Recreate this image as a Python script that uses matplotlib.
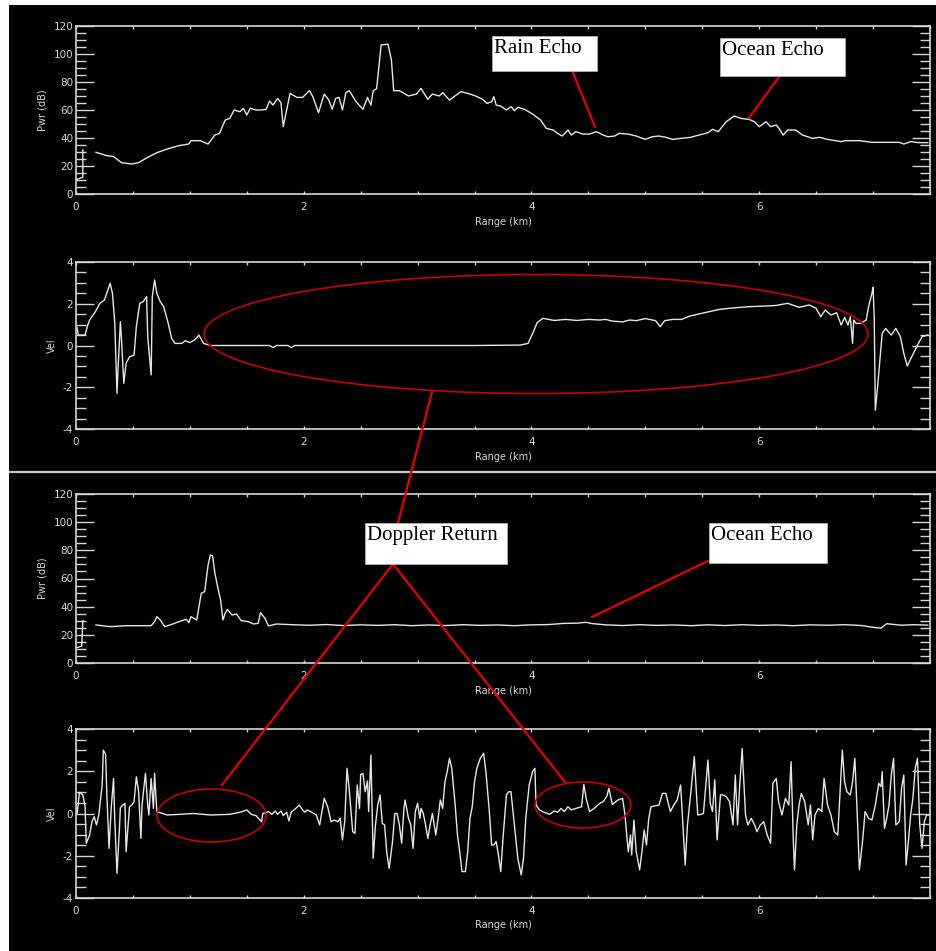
import numpy as np
import matplotlib
matplotlib.use("Agg")
import matplotlib.pyplot as plt
from matplotlib.patches import Ellipse, Rectangle
from matplotlib.lines import Line2D
from matplotlib.ticker import MultipleLocator

plt.rcParams["axes.unicode_minus"] = False

nan = np.nan

# --- rain case: received power (dB) vs range (km) ---
rain_pwr_km = [
    0.01, 0.06, 0.06, nan, 0.175, 0.27, 0.33, 0.40, 0.49, 0.55,
    0.63, 0.71, 0.80, 0.90, 0.99, 1.01, 1.09, 1.16, 1.22, 1.26,
    1.31, 1.35, 1.39, 1.44, 1.47, 1.50, 1.53, 1.58, 1.63, 1.67,
    1.70, 1.73, 1.77, 1.80, 1.82, 1.85, 1.88, 1.94, 1.99, 2.05,
    2.08, 2.13, 2.18, 2.22, 2.25, 2.28, 2.31, 2.34, 2.37, 2.40,
    2.46, 2.52, 2.56, 2.59, 2.61, 2.64, 2.68, 2.74, 2.77, 2.79,
    2.84, 2.92, 2.99, 3.03, 3.09, 3.13, 3.19, 3.22, 3.28, 3.34,
    3.38, 3.46, 3.51, 3.57, 3.61, 3.65, 3.67, 3.69, 3.73, 3.78,
    3.82, 3.85, 3.88, 3.94, 4.01, 4.08, 4.13, 4.19, 4.23, 4.27,
    4.32, 4.35, 4.39, 4.45, 4.51, 4.57, 4.63, 4.67, 4.73, 4.77,
    4.85, 4.92, 5.00, 5.06, 5.12, 5.18, 5.24, 5.31, 5.40, 5.47,
    5.55, 5.59, 5.64, 5.71, 5.78, 5.84, 5.91, 5.96, 6.00, 6.06,
    6.10, 6.15, 6.18, 6.21, 6.25, 6.32, 6.38, 6.47, 6.53, 6.60,
    6.72, 6.76, 6.88, 6.99, 7.11, 7.23, 7.27, 7.33, 7.40, 7.48,
]
rain_pwr_db = [
    10.5, 12.0, 31.5, nan, 29.8, 27.4, 26.7, 22.4, 21.4, 22.4,
    26.2, 29.5, 32.1, 34.5, 35.7, 38.1, 38.1, 35.7, 42.1, 43.3,
    52.8, 54.0, 60.0, 58.8, 61.2, 56.4, 61.2, 60.0, 60.0, 60.5,
    66.4, 63.5, 68.3, 65.2, 48.1, 60.0, 71.9, 69.0, 69.0, 73.8,
    69.5, 58.1, 71.4, 67.1, 60.5, 68.3, 69.0, 60.0, 72.4, 73.8,
    65.9, 60.5, 69.0, 63.5, 73.8, 75.2, 106.5, 107.0, 95.7, 73.8,
    73.8, 70.0, 71.4, 75.4, 67.6, 71.4, 70.0, 72.4, 67.1, 70.7,
    73.1, 71.4, 70.0, 67.6, 64.7, 65.9, 69.5, 63.5, 62.8, 60.0,
    62.4, 59.5, 61.9, 60.5, 57.1, 52.8, 46.9, 45.7, 43.3, 41.4,
    45.7, 42.1, 44.5, 42.8, 42.8, 44.5, 42.1, 40.9, 41.4, 43.3,
    42.8, 41.4, 39.0, 40.9, 41.4, 40.5, 39.0, 39.7, 40.5, 42.1,
    43.8, 46.2, 44.5, 51.6, 55.7, 54.0, 53.3, 51.6, 48.1, 51.6,
    48.1, 49.3, 46.2, 42.1, 45.7, 45.7, 42.1, 39.7, 40.5, 39.0,
    37.4, 38.1, 38.1, 36.9, 36.9, 36.9, 35.7, 37.4, 36.7, 36.7,
]

# --- rain case: Doppler velocity vs range ---
rain_vel_km = [
    0.01, 0.02, 0.08, 0.10, 0.12, 0.17, 0.21, 0.25, 0.28, 0.30,
    0.32, 0.34, 0.36, 0.37, 0.39, 0.40, 0.42, 0.44, 0.47, 0.51,
    0.53, 0.56, 0.59, 0.62, 0.63, 0.66, 0.67, 0.69, 0.71, 0.74,
    0.77, 0.81, 0.84, 0.87, 0.93, 0.96, 1.00, 1.04, 1.08, 1.12,
    1.18, 1.50, 1.70, 1.73, 1.76, 1.86, 1.89, 1.92, 2.50, 3.00,
    3.50, 3.90, 3.97, 4.02, 4.05, 4.10, 4.20, 4.30, 4.40, 4.50,
    4.60, 4.65, 4.71, 4.80, 4.86, 4.92, 5.00, 5.09, 5.13, 5.17,
    5.24, 5.32, 5.39, 5.47, 5.56, 5.65, 5.77, 5.91, 6.06, 6.15,
    6.25, 6.35, 6.44, 6.50, 6.54, 6.58, 6.63, 6.68, 6.72, 6.75,
    6.78, 6.80, 6.82, 6.83, 6.85, 6.89, 6.94, 6.96, 6.99, 7.00,
    7.01, 7.02, 7.04, 7.06, 7.08, 7.11, 7.16, 7.20, 7.24, 7.27,
    7.30, 7.34, 7.39, 7.43, 7.48,
]
rain_vel_ms = [
    0.85, 0.50, 0.50, 0.93, 1.22, 1.62, 2.02, 2.18, 2.66, 2.98,
    2.50, 1.14, -2.29, -1.01, 1.14, 0.26, -1.81, -0.85, -0.54, -0.46,
    0.90, 2.02, 2.10, 2.34, 0.42, -1.41, 2.34, 3.14, 2.50, 2.10,
    1.86, 1.06, 0.34, 0.10, 0.10, 0.23, 0.14, 0.26, 0.50, 0.10,
    0.00, 0.00, 0.00, -0.10, 0.00, 0.00, -0.10, 0.00, 0.00, 0.00,
    0.00, 0.02, 0.10, 0.70, 1.10, 1.30, 1.20, 1.25, 1.20, 1.25,
    1.22, 1.25, 1.17, 1.13, 1.22, 1.19, 1.29, 1.19, 0.90, 1.19,
    1.25, 1.25, 1.41, 1.51, 1.62, 1.73, 1.80, 1.86, 1.89, 1.92,
    2.02, 1.83, 1.94, 1.78, 1.38, 1.70, 1.46, 1.57, 0.98, 1.35,
    0.98, 1.38, 0.10, 1.22, 1.06, 1.06, 1.22, 1.86, 2.50, 2.79,
    1.35, -3.10, -1.97, -0.69, 0.58, 0.82, 0.50, 0.82, 0.42, -0.38,
    -0.98, -0.54, 0.02, 0.42, 0.50,
]

# --- clear case: received power ---
clear_pwr_km = [
    0.01, 0.05, 0.06, nan, 0.175, 0.30, 0.44, 0.56, 0.66, 0.69,
    0.71, 0.74, 0.78, 0.85, 0.93, 0.97, 0.99, 1.01, 1.06, 1.08,
    1.10, 1.13, 1.16, 1.18, 1.20, 1.22, 1.25, 1.27, 1.29, 1.31,
    1.33, 1.37, 1.41, 1.45, 1.51, 1.56, 1.60, 1.62, 1.66, 1.69,
    1.76, 1.90, 2.05, 2.20, 2.35, 2.50, 2.65, 2.80, 2.95, 3.10,
    3.25, 3.40, 3.55, 3.70, 3.85, 4.00, 4.15, 4.28, 4.40, 4.48,
    4.53, 4.65, 4.80, 4.95, 5.10, 5.25, 5.40, 5.55, 5.70, 5.85,
    6.00, 6.15, 6.30, 6.45, 6.60, 6.75, 6.90, 7.00, 7.07, 7.12,
    7.18, 7.25, 7.35, 7.48,
]
clear_pwr_db = [
    11.0, 12.0, 30.0, nan, 27.0, 25.8, 26.5, 26.5, 26.5, 29.4,
    32.9, 30.5, 25.8, 27.7, 30.1, 31.0, 28.6, 32.9, 30.5, 40.0,
    49.5, 50.7, 69.6, 76.7, 76.0, 63.7, 51.8, 44.7, 30.5, 35.3,
    38.1, 34.1, 34.8, 30.1, 29.4, 27.7, 28.2, 35.7, 31.7, 26.3,
    27.7, 27.2, 26.8, 27.3, 26.6, 27.1, 26.7, 27.2, 26.5, 27.0,
    26.6, 27.2, 26.7, 27.0, 26.5, 27.1, 27.3, 28.1, 28.3, 28.9,
    28.0, 27.1, 26.6, 27.2, 26.7, 27.0, 26.5, 27.1, 26.6, 27.2,
    26.7, 27.0, 26.5, 27.1, 26.8, 27.2, 26.6, 25.3, 24.8, 27.9,
    27.4, 26.8, 27.2, 26.9,
]

# --- clear case: Doppler velocity ---
clear_vel_km = [
    0.01, 0.03, 0.06, 0.08, 0.09, 0.12, 0.14, 0.16, 0.18, 0.20,
    0.23, 0.24, 0.26, 0.27, 0.29, 0.31, 0.33, 0.34, 0.36, 0.38,
    0.39, 0.41, 0.43, 0.44, 0.47, 0.49, 0.51, 0.53, 0.55, 0.57,
    0.58, 0.61, 0.63, 0.64, 0.66, 0.68, 0.69, 0.71, 0.80, 0.91,
    1.03, 1.18, 1.35, 1.44, 1.50, 1.54, 1.58, 1.63, 1.64, 1.69,
    1.72, 1.75, 1.77, 1.80, 1.82, 1.85, 1.87, 1.89, 1.93, 1.96,
    1.99, 2.01, 2.03, 2.07, 2.11, 2.14, 2.16, 2.18, 2.21, 2.24,
    2.27, 2.30, 2.32, 2.34, 2.36, 2.38, 2.40, 2.43, 2.45, 2.47,
    2.49, 2.50, 2.52, 2.54, 2.56, 2.57, 2.59, 2.61, 2.63, 2.65,
    2.67, 2.69, 2.71, 2.73, 2.75, 2.78, 2.80, 2.82, 2.84, 2.86,
    2.88, 2.89, 2.92, 2.94, 2.96, 2.98, 3.00, 3.02, 3.03, 3.05,
    3.07, 3.09, 3.11, 3.13, 3.16, 3.18, 3.20, 3.22, 3.24, 3.26,
    3.28, 3.30, 3.33, 3.35, 3.37, 3.39, 3.42, 3.44, 3.46, 3.48,
    3.50, 3.52, 3.55, 3.58, 3.60, 3.63, 3.65, 3.67, 3.69, 3.71,
    3.73, 3.75, 3.78, 3.80, 3.82, 3.85, 3.88, 3.91, 3.93, 3.95,
    3.98, 4.01, 4.03, 4.04, 4.07, 4.11, 4.16, 4.20, 4.23, 4.26,
    4.29, 4.32, 4.35, 4.39, 4.44, 4.46, 4.48, 4.51, 4.55, 4.60,
    4.63, 4.66, 4.68, 4.71, 4.76, 4.80, 4.82, 4.85, 4.87, 4.88,
    4.90, 4.92, 4.95, 4.97, 4.99, 5.01, 5.03, 5.05, 5.09, 5.12,
    5.15, 5.18, 5.22, 5.25, 5.28, 5.31, 5.33, 5.35, 5.37, 5.40,
    5.43, 5.46, 5.49, 5.51, 5.55, 5.57, 5.59, 5.61, 5.63, 5.66,
    5.68, 5.71, 5.74, 5.77, 5.79, 5.81, 5.83, 5.85, 5.88, 5.90,
    5.93, 5.96, 5.98, 6.01, 6.04, 6.07, 6.10, 6.12, 6.15, 6.17,
    6.20, 6.23, 6.26, 6.28, 6.30, 6.31, 6.33, 6.35, 6.37, 6.40,
    6.43, 6.45, 6.47, 6.49, 6.52, 6.55, 6.57, 6.60, 6.63, 6.66,
    6.69, 6.71, 6.73, 6.75, 6.77, 6.80, 6.82, 6.84, 6.86, 6.88,
    6.91, 6.93, 6.96, 6.99, 7.02, 7.05, 7.07, 7.08, 7.10, 7.12,
    7.14, 7.16, 7.18, 7.20, 7.23, 7.25, 7.27, 7.29, 7.31, 7.33,
    7.35, 7.37, 7.39, 7.41, 7.43, 7.45, 7.47, 7.49,
]
clear_vel_ms = [
    0.00, 1.00, 0.88, 0.32, -1.41, -1.02, -0.39, -0.15, -0.54, -0.07,
    1.35, 3.00, 2.80, 1.03, -1.65, 0.32, 1.66, -0.23, -2.83, -0.86,
    0.28, 0.40, 0.48, -1.81, 0.32, 0.40, 0.56, 1.74, 1.03, -1.18,
    0.40, 1.90, 0.40, -0.07, 1.66, 0.24, 1.90, 0.09, -0.07, -0.04,
    0.00, -0.07, -0.04, 0.06, 0.17, -0.04, -0.10, -0.39, 0.00, 0.09,
    -0.04, 0.12, -0.04, 0.12, -0.10, 0.06, -0.35, 0.06, 0.24, 0.40,
    0.17, 0.06, 0.17, 0.06, -0.07, -0.54, 0.09, 0.72, 0.32, -0.39,
    -0.31, -0.39, -0.23, -1.25, -0.39, 2.14, 1.11, -0.86, -0.94, 1.35,
    0.24, 1.85, 1.90, 1.03, 1.54, 0.09, 2.77, -2.12, -0.54, 0.40,
    0.88, -0.47, -0.54, -1.88, -2.60, -1.33, 0.00, 0.00, -0.54, -1.41,
    0.24, 0.64, -0.23, -0.54, -1.65, 0.09, 0.48, -0.23, 0.24, 0.00,
    -0.54, -1.18, -0.54, 0.00, -1.02, -0.23, 0.64, 0.24, 1.50, 1.98,
    2.61, 2.14, 0.40, -1.02, -1.81, -2.75, -2.75, -1.81, -0.23, 0.32,
    1.50, 2.14, 2.61, 2.85, 1.98, 0.09, -1.49, -1.49, -1.33, -1.96,
    -2.75, -1.18, 0.88, 1.03, 1.03, -0.54, -2.12, -2.91, -2.12, -0.23,
    1.35, 1.98, 2.14, 0.40, 0.17, 0.06, -0.04, 0.12, 0.06, 0.24,
    0.09, 0.32, 0.17, 0.24, 0.32, 1.38, 0.72, 0.09, 0.24, 0.48,
    0.56, 0.80, 1.19, 0.43, 0.64, 0.72, 0.00, -1.81, -1.02, -1.96,
    -0.31, -1.81, -2.67, -1.81, -0.78, -1.49, -0.23, 0.32, 0.37, 0.40,
    0.95, 0.95, 0.09, 0.40, 0.64, 1.35, -0.54, -2.44, -0.54, 1.03,
    2.69, -0.07, -0.04, 0.00, 2.53, 0.48, 0.09, 1.59, -1.25, 0.88,
    0.88, 0.80, 0.56, -0.54, 1.82, -0.54, 1.43, 3.08, -0.07, -0.54,
    -0.23, -0.54, -0.86, -0.54, -0.39, -1.02, -1.41, 1.43, 1.66, 0.56,
    -0.07, 0.72, 0.40, 2.45, -1.33, -2.67, -0.54, 0.40, 0.95, 0.56,
    -0.54, 0.40, -1.25, -0.07, 0.24, 0.09, 1.66, 0.40, -0.07, -0.86,
    -1.02, 0.95, 3.00, 1.50, 1.03, 0.88, 1.50, 2.61, 0.09, -2.67,
    -1.18, 0.09, -0.23, -0.31, 0.40, 1.43, 1.27, 1.98, -0.70, -0.23,
    0.40, 1.82, 2.61, -0.54, -0.39, 1.19, 1.82, -2.44, -1.33, -0.07,
    0.72, 2.14, 2.61, -0.54, -1.65, -0.39, -0.07, -0.07,
]

x_ticks = [0, 2, 4, 6]
pwr_ticks = [0, 20, 40, 60, 80, 100, 120]
vel_ticks = [-4, -2, 0, 2, 4]

W, H = 937, 951
FG = "#d6d6d6"


def px(x, y):
    """pixel position (from top-left) -> figure fraction"""
    return x / W, 1 - y / H


fig = plt.figure(figsize=(W / 100, H / 100), dpi=100, facecolor="black")

# panel boxes in pixels: (top, bottom)
left, right = 76, 930
rows = [(26, 194), (262, 429), (494, 663), (729, 898)]
panels = [
    (rain_pwr_km, rain_pwr_db, "Pwr (dB)", (0, 120), pwr_ticks, 5),
    (rain_vel_km, rain_vel_ms, "Vel", (-4, 4), vel_ticks, 0.5),
    (clear_pwr_km, clear_pwr_db, "Pwr (dB)", (0, 120), pwr_ticks, 5),
    (clear_vel_km, clear_vel_ms, "Vel", (-4, 4), vel_ticks, 0.5),
]

for (top, bot), (xs, ys, ylab, ylim, yt, yminor) in zip(rows, panels):
    x0, y0 = px(left, bot)
    ax = fig.add_axes([x0, y0, (right - left) / W, (bot - top) / H])
    ax.set_facecolor("black")
    ax.plot(xs, ys, color="#e6e6e6", lw=1.0)
    ax.set_xlim(0, 7.5)
    ax.set_ylim(*ylim)
    ax.set_xticks(x_ticks)
    ax.xaxis.set_minor_locator(MultipleLocator(0.5))
    ax.set_yticks(yt)
    ax.yaxis.set_minor_locator(MultipleLocator(yminor))
    ax.tick_params(axis="both", which="both", direction="in", colors=FG,
                   top=True, right=True, width=1.0, labelsize=7.5)
    ax.tick_params(axis="x", which="both", length=2.5, pad=6)
    ax.tick_params(axis="y", which="major", length=13, pad=2)
    ax.tick_params(axis="y", which="minor", length=7)
    for s in ax.spines.values():
        s.set_color(FG)
        s.set_linewidth(1.2)
    ax.set_xlabel("Range (km)", color=FG, fontsize=7, labelpad=3)
    ax.set_ylabel(ylab, color=FG, fontsize=7, labelpad=4)

# white strips along the top and left edge, separator between the two cases
fig.add_artist(Rectangle((0, 1 - 5 / H), 1, 5 / H, transform=fig.transFigure,
                         facecolor="white", edgecolor="none", zorder=20))
fig.add_artist(Rectangle((0, 0), 9 / W, 1, transform=fig.transFigure,
                         facecolor="white", edgecolor="none", zorder=20))
fig.add_artist(Line2D([9 / W, 1], [1 - 472 / H] * 2, transform=fig.transFigure,
                      color="#c8c8c8", lw=1.6, zorder=5))

RED = "#e80000"

# red ellipses around the returns of interest
for cx, cy, w, h in [(536, 334, 664, 119), (211.5, 815.5, 109, 53), (583, 805, 96, 46)]:
    fig.add_artist(Ellipse(px(cx, cy), w / W, h / H, transform=fig.transFigure,
                           fill=False, edgecolor="#c80000", lw=1.2, zorder=10))

# leader lines
leaders = [
    ((572, 70), (595, 127)),
    ((779, 77), (749, 118)),
    ((432, 392), (398, 523)),
    ((393, 564), (222, 785)),
    ((393, 564), (565, 782)),
    ((708, 561), (592, 617)),
]
for (xa, ya), (xb, yb) in leaders:
    (fa, ga), (fb, gb) = px(xa, ya), px(xb, yb)
    fig.add_artist(Line2D([fa, fb], [ga, gb], transform=fig.transFigure,
                          color=RED, lw=1.6, zorder=11))

# label boxes
labels = [
    ("Rain Echo", 492, 36, 597, 71),
    ("Ocean Echo", 720, 38, 845, 76),
    ("Doppler Return", 365, 523, 507, 564),
    ("Ocean Echo", 709, 523, 827, 563),
]
for txt, xa, ya, xb, yb in labels:
    fx0, fy0 = px(xa, yb)
    fig.add_artist(Rectangle((fx0, fy0), (xb - xa) / W, (yb - ya) / H,
                             transform=fig.transFigure, facecolor="white",
                             edgecolor="#bbbbbb", lw=0.5, zorder=12))
    tx, ty = px(xa + 2, ya + 3)
    fig.text(tx, ty, txt, ha="left", va="top", fontsize=15,
             family="Liberation Serif", color="black", zorder=13)

fig.savefig("out.png", dpi=100, facecolor="black")
